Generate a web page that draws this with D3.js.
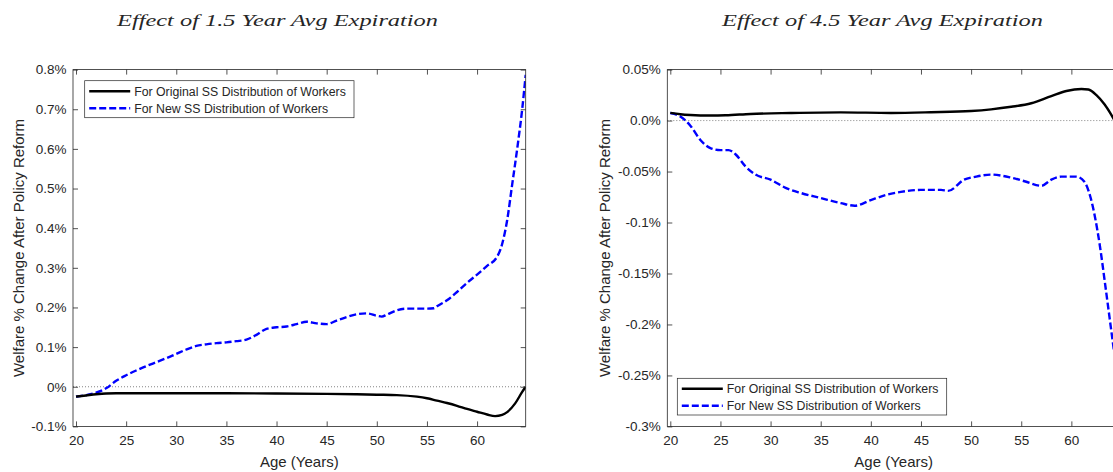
<!DOCTYPE html>
<html>
<head>
<meta charset="utf-8">
<script src="https://cdn.jsdelivr.net/npm/d3@7"></script>
<style>
  html, body { margin: 0; padding: 0; background: #fff; }
  svg { display: block; }
  text { font-family: "Liberation Sans", Arial, Helvetica, sans-serif; fill: #262626; }
</style>
</head>
<body>
<svg id="chart" width="1113" height="472"></svg>
<script>
// Age grid and welfare changes (%), 1.5-year average expiration
const leftOrigAges = [20,21,22,23,24,26,30,35,40,45,48,50,52,54,55,56,57,58,59,60,61,61.8,62.5,63,63.8,64.5,64.85];
const leftOrigVals = [-0.025,-0.022,-0.019,-0.017,-0.0165,-0.0165,-0.0165,-0.0165,-0.017,-0.018,-0.019,-0.020,-0.021,-0.025,-0.029,-0.035,-0.041,-0.048,-0.056,-0.063,-0.070,-0.074,-0.071,-0.064,-0.042,-0.013,0];

const leftNewAges = [20,21,22,23,24,25,26,27,28,29,30,31,32,33,34,35,36,37,38,39,40,41,42,43,44,45,46,47,48,49,50,50.5,51,52,53,54,55,55.7,56,57,58,59,60,61,62,62.5,63,63.5,64,64.5,64.85];
const leftNewVals = [-0.025,-0.021,-0.015,-0.004,0.015,0.029,0.041,0.052,0.062,0.072,0.083,0.094,0.103,0.107,0.110,0.112,0.115,0.119,0.131,0.146,0.150,0.152,0.158,0.164,0.160,0.158,0.167,0.176,0.183,0.185,0.179,0.177,0.182,0.193,0.197,0.197,0.197,0.198,0.203,0.218,0.239,0.262,0.283,0.305,0.328,0.36,0.42,0.51,0.60,0.70,0.787];

// Age grid and welfare changes (%), 4.5-year average expiration
const rightOrigAges = [20,21,22,24,25.5,28,32,37,42,46,50,52,54,56,58,59.5,61,61.7,62.5,63.3,64.2,64.85];
const rightOrigVals = [0.0075,0.0062,0.0055,0.005,0.0052,0.0065,0.0074,0.008,0.0075,0.0082,0.0094,0.011,0.0135,0.017,0.024,0.029,0.031,0.0305,0.025,0.016,0.002,-0.01];

const rightNewAges = [20,21,22,23,24,25,25.8,26.5,27.5,28.5,30,31.5,33,35,37,38.4,40,41.5,43,45,47,47.7,49.3,50.5,52,54,55.5,57,58,59,60.5,61.3,61.9,62.8,63.4,64.1,64.85];
const rightNewVals = [0.0074,0.004,-0.005,-0.019,-0.027,-0.029,-0.029,-0.033,-0.045,-0.053,-0.058,-0.066,-0.071,-0.076,-0.081,-0.0835,-0.078,-0.073,-0.070,-0.068,-0.068,-0.069,-0.058,-0.055,-0.053,-0.056,-0.060,-0.064,-0.058,-0.055,-0.055,-0.060,-0.075,-0.120,-0.163,-0.215,-0.27];

// Tick values and labels
const xTicks = [20,25,30,35,40,45,50,55,60];
const leftYTicks = [-0.1,0,0.1,0.2,0.3,0.4,0.5,0.6,0.7,0.8];
const leftYLabels = ["-0.1%","0%","0.1%","0.2%","0.3%","0.4%","0.5%","0.6%","0.7%","0.8%"];
const rightYTicks = [-0.3,-0.25,-0.2,-0.15,-0.1,-0.05,0,0.05];
const rightYLabels = ["-0.3%","-0.25%","-0.2%","-0.15%","-0.1%","-0.05%","0.0%","0.05%"];

const seriesNames = ["For Original SS Distribution of Workers", "For New SS Distribution of Workers"];
const titles = ["Effect of 1.5 Year Avg Expiration", "Effect of 4.5 Year Avg Expiration"];

const svg = d3.select("#chart");
const INK = "#262626";

function drawPanel(opt) {
  const g = svg.append("g");
  const x = d3.scaleLinear().domain([19.7, 64.85]).range([opt.x0, opt.x1]);
  const y = d3.scaleLinear().domain(opt.yDomain).range([426.4, 69.6]);
  const [ya, yb] = y.range();

  const clipId = "clip-" + opt.id;
  svg.append("clipPath").attr("id", clipId)
    .append("rect").attr("x", opt.x0).attr("y", yb).attr("width", opt.x1 - opt.x0).attr("height", ya - yb);

  // zero reference
  g.append("line")
    .attr("x1", opt.x0).attr("x2", opt.x1).attr("y1", y(0)).attr("y2", y(0))
    .attr("stroke", "#666").attr("stroke-width", 0.8).attr("stroke-dasharray", "1,2");

  const line = d3.line().x(d => x(d[0])).y(d => y(d[1])).curve(d3.curveMonotoneX);
  const lines = g.append("g").attr("clip-path", `url(#${clipId})`);
  lines.append("path")
    .datum(d3.zip(opt.newAges, opt.newVals))
    .attr("d", line).attr("fill", "none")
    .attr("stroke", "#0000ff").attr("stroke-width", 2.4).attr("stroke-dasharray", "7,3");
  lines.append("path")
    .datum(d3.zip(opt.origAges, opt.origVals))
    .attr("d", line).attr("fill", "none")
    .attr("stroke", "#000").attr("stroke-width", 2.4);

  // box
  g.append("rect").attr("x", opt.x0).attr("y", yb).attr("width", opt.x1 - opt.x0).attr("height", ya - yb)
    .attr("fill", "none").attr("stroke", INK).attr("stroke-width", 0.8);

  const styleAxis = sel => {
    sel.select(".domain").remove();
    sel.selectAll(".tick line").attr("stroke", INK).attr("stroke-width", 0.8);
    sel.selectAll("text").attr("fill", INK).style("font-size", "13.5px")
      .style("font-family", '"Liberation Sans", Arial, sans-serif');
  };

  g.append("g").attr("transform", `translate(0,${ya})`)
    .call(d3.axisBottom(x).tickValues(xTicks).tickSizeInner(-5).tickSizeOuter(0).tickPadding(9).tickFormat(d3.format("d")))
    .call(styleAxis);
  g.append("g").attr("transform", `translate(0,${yb})`)
    .call(d3.axisTop(x).tickValues(xTicks).tickSizeInner(-5).tickSizeOuter(0).tickFormat(""))
    .call(styleAxis);
  g.append("g").attr("transform", `translate(${opt.x0},0)`)
    .call(d3.axisLeft(y).tickValues(opt.yTicks).tickSizeInner(-5).tickSizeOuter(0).tickPadding(6.5)
      .tickFormat((d, i) => opt.yLabels[i]))
    .call(styleAxis);
  g.append("g").attr("transform", `translate(${opt.x1},0)`)
    .call(d3.axisRight(y).tickValues(opt.yTicks).tickSizeInner(-5).tickSizeOuter(0).tickFormat(""))
    .call(styleAxis);

  // axis labels
  g.append("text").attr("x", (opt.x0 + opt.x1) / 2).attr("y", 467)
    .attr("text-anchor", "middle").style("font-size", "15px").text("Age (Years)");
  g.append("text").attr("transform", `translate(${opt.ylabelX},${(ya + yb) / 2}) rotate(-90)`)
    .attr("text-anchor", "middle").style("font-size", "15px").text("Welfare % Change After Policy Reform");

  // title
  g.append("text").attr("x", opt.titleX).attr("y", 26)
    .attr("textLength", 321).attr("lengthAdjust", "spacingAndGlyphs")
    .style("font-family", '"Liberation Serif", "DejaVu Serif", serif')
    .style("font-style", "italic").style("font-size", "17px").attr("fill", "#111")
    .text(opt.title);

  // legend
  const L = opt.legend;
  const lg = g.append("g");
  lg.append("rect").attr("x", L.x).attr("y", L.y).attr("width", L.w).attr("height", L.h)
    .attr("fill", "#fff").attr("stroke", INK).attr("stroke-width", 0.7);
  const rows = [
    { name: seriesNames[0], color: "#000", dash: null },
    { name: seriesNames[1], color: "#0000ff", dash: "7,3" }
  ];
  rows.forEach((r, i) => {
    const cy = L.y + 10.5 + i * 17;
    lg.append("line").attr("x1", L.x + 4.5).attr("x2", L.x + 45.5).attr("y1", cy).attr("y2", cy)
      .attr("stroke", r.color).attr("stroke-width", 2.4).attr("stroke-dasharray", r.dash);
    lg.append("text").attr("x", L.x + 49.5).attr("y", cy + 4.3)
      .style("font-size", "12.3px").attr("fill", "#000").text(r.name);
  });
}

drawPanel({
  id: "a", x0: 73, x1: 525.7, yDomain: [-0.1, 0.8], yTicks: leftYTicks, yLabels: leftYLabels,
  origAges: leftOrigAges, origVals: leftOrigVals, newAges: leftNewAges, newVals: leftNewVals,
  ylabelX: 23.5, titleX: 117, title: titles[0],
  legend: { x: 84.7, y: 80.7, w: 269.3, h: 37 }
});
drawPanel({
  id: "b", x0: 667.3, x1: 1120, yDomain: [-0.3, 0.05], yTicks: rightYTicks, yLabels: rightYLabels,
  origAges: rightOrigAges, origVals: rightOrigVals, newAges: rightNewAges, newVals: rightNewVals,
  ylabelX: 610, titleX: 722, title: titles[1],
  legend: { x: 677.3, y: 378.3, w: 269.4, h: 36.7 }
});
</script>
</body>
</html>
